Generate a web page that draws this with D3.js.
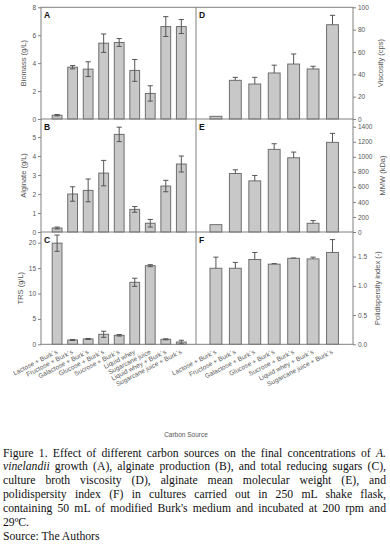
<!DOCTYPE html>
<html><head><meta charset="utf-8">
<script src="https://cdn.jsdelivr.net/npm/d3@7"></script>
<style>
body{margin:0;background:#fff;width:390px;height:548px;overflow:hidden;position:relative;}
#cap{position:absolute;left:3px;top:446.5px;width:383px;font-family:"Liberation Serif","Times New Roman",serif;font-size:11.7px;line-height:13.9px;color:#111;}
#cap .j{text-align:justify;text-align-last:justify;white-space:nowrap;}
#cap .l{text-align:left;white-space:nowrap;}
svg text{font-family:"Liberation Sans",Arial,sans-serif;}
</style></head>
<body>
<svg id="chart" width="390" height="445"></svg>
<div id="cap">
<div class="j">Figure 1. Effect of different carbon sources on the final concentrations of <i>A.</i></div>
<div class="j"><i>vinelandii</i> growth (A), alginate production (B), and total reducing sugars (C),</div>
<div class="j">culture broth viscosity (D), alginate mean molecular weight (E), and</div>
<div class="j">polidispersity index (F) in cultures carried out in 250 mL shake flask,</div>
<div class="j">containing 50 mL of modified Burk's medium and incubated at 200 rpm and</div>
<div class="l">29ºC.</div>
<div class="l">Source: The Authors</div>
</div>
<script>
const leftCats = ["Lactose + Burk´s","Fructose + Burk´s","Galactose + Burk´s","Glucose + Burk´s","Sucrose + Burk´s","Liquid whey","Sugarcane juice","Liquid whey + Burk´s","Sugarcane juice + Burk´s"];
const rightCats = ["Lactose + Burk´s","Fructose + Burk´s","Galactose + Burk´s","Glucose + Burk´s","Sucrose + Burk´s","Liquid whey + Burk´s","Sugarcane juice + Burk´s"];

const biomass = [0.27,3.71,3.57,5.43,5.48,3.48,1.83,6.62,6.62];
const biomassErr = [0.05,0.12,0.53,0.66,0.28,0.78,0.55,0.71,0.5];
const alginate = [0.21,2.0,2.19,3.1,5.14,1.19,0.46,2.42,3.58];
const alginateErr = [0.05,0.38,0.6,0.67,0.38,0.15,0.2,0.3,0.42];
const trs = [19.9,0.85,1.05,1.97,1.77,12.2,15.47,0.98,0.45];
const trsErr = [1.6,0.1,0.1,0.6,0.15,0.8,0.2,0.1,0.35];
const viscosity = [2.4,34.6,31.3,41.2,49.2,44.8,84.4];
const viscosityErr = [0,2.7,6,7,9,2.4,8.4];
const mmw = [98,778,680,1099,987,116,1192];
const mmwErr = [0,49,72,75,76,36,120];
const pdi = [1.30,1.30,1.45,1.37,1.47,1.46,1.57];
const pdiErr = [0.19,0.10,0.12,0.01,0.005,0.03,0.22];

const ticksA = [0,2,4,6,8];
const ticksB = [0,1,2,3,4,5];
const ticksC = [0,5,10,15,20];
const ticksD = [0,20,40,60,80,100];
const ticksE = [0,200,400,600,800,1000,1200,1400];
const ticksF = [0,0.5,1.0,1.5];

const svg = d3.select("#chart");
const L0=41, MID=196, R1=353;
const rowY = [7.3,119,232,344.3];
const axisCol="#808080", txtCol="#555";

const xL = d3.scaleBand().domain(leftCats).range([49.4,189]).paddingInner(0.37).paddingOuter(0.18);
const xR = d3.scaleBand().domain(rightCats).range([206.1,342.3]).paddingInner(0.39).paddingOuter(0.2);

const panels = [
 {side:"L",row:0,vals:biomass,err:biomassErr,max:8,ticks:ticksA,fmt:d3.format("d"),title:"Biomass (g/L)",letter:"A",tx:23},
 {side:"L",row:1,vals:alginate,err:alginateErr,max:5.95,ticks:ticksB,fmt:d3.format("d"),title:"Alginate (g/L)",letter:"B",tx:23},
 {side:"L",row:2,vals:trs,err:trsErr,max:22.1,ticks:ticksC,fmt:d3.format("d"),title:"TRS (g/L)",letter:"C",tx:20},
 {side:"R",row:0,vals:viscosity,err:viscosityErr,max:100,ticks:ticksD,fmt:d3.format("d"),title:"Viscosity (cps)",letter:"D",tx:380},
 {side:"R",row:1,vals:mmw,err:mmwErr,max:1503,ticks:ticksE,fmt:d3.format("d"),title:"MMW (kDa)",letter:"E",tx:382},
 {side:"R",row:2,vals:pdi,err:pdiErr,max:1.92,ticks:ticksF,fmt:d3.format(".1f"),title:"Polidispersity index (-)",letter:"F",tx:377}
];

panels.forEach(p=>{
  const y = d3.scaleLinear().domain([0,p.max]).range([rowY[p.row+1],rowY[p.row]]);
  const x = p.side==="L"?xL:xR;
  const cats = p.side==="L"?leftCats:rightCats;
  const g = svg.append("g");
  g.selectAll("rect.bar").data(p.vals).join("rect")
    .attr("x",(d,i)=>x(cats[i])).attr("width",x.bandwidth())
    .attr("y",d=>y(d)).attr("height",d=>y(0)-y(d))
    .attr("fill","#c8c8c8").attr("stroke","#6e6e6e").attr("stroke-width",1);
  const eg = g.selectAll("g.err").data(p.vals).join("g");
  eg.each(function(d,i){
    const e=p.err[i]; if(!e) return;
    const cx=x(cats[i])+x.bandwidth()/2;
    const top=y(d+e), bot = p.side==="L"?y(d-e):y(d);
    const s=d3.select(this);
    s.append("line").attr("x1",cx).attr("x2",cx).attr("y1",top).attr("y2",bot).attr("stroke","#555").attr("stroke-width",1);
    s.append("line").attr("x1",cx-2.6).attr("x2",cx+2.6).attr("y1",top).attr("y2",top).attr("stroke","#555").attr("stroke-width",1);
    if(p.side==="L") s.append("line").attr("x1",cx-2.6).attr("x2",cx+2.6).attr("y1",bot).attr("y2",bot).attr("stroke","#555").attr("stroke-width",1);
  });
  const isL = p.side==="L";
  const ax = (isL?d3.axisLeft(y):d3.axisRight(y)).tickValues(p.ticks).tickFormat(p.fmt).tickSize(3).tickPadding(2);
  const a = svg.append("g").attr("transform",`translate(${isL?L0:R1},0)`).call(ax);
  a.select(".domain").remove();
  a.selectAll("line").attr("stroke",axisCol);
  a.selectAll("text").attr("fill",txtCol).style("font-size","6.5px");
  svg.append("text").attr("transform",`translate(${p.tx},${(rowY[p.row]+rowY[p.row+1])/2}) rotate(-90)`)
    .attr("text-anchor","middle").attr("dy","0.35em").attr("fill",txtCol).style("font-size","7.5px").text(p.title);
  svg.append("text").attr("x",isL?44:199).attr("y",rowY[p.row]+11).attr("font-weight","bold").style("font-size","8.5px").attr("fill","#111").text(p.letter);
});

const fr = svg.append("g").attr("stroke",axisCol).attr("stroke-width",1).attr("fill","none");
fr.append("rect").attr("x",L0).attr("y",rowY[0]).attr("width",R1-L0).attr("height",rowY[3]-rowY[0]);
fr.append("line").attr("x1",MID).attr("x2",MID).attr("y1",rowY[0]).attr("y2",rowY[3]);
[1,2].forEach(r=>fr.append("line").attr("x1",L0).attr("x2",R1).attr("y1",rowY[r]).attr("y2",rowY[r]));

function xlabels(x,cats){
  svg.append("g").selectAll("text").data(cats).join("text")
    .attr("transform",d=>`translate(${x(d)+x.bandwidth()/2+1},${rowY[3]+9}) rotate(-27)`)
    .attr("text-anchor","end").attr("fill",txtCol).style("font-size","6.5px").text(d=>d);
}
xlabels(xL,leftCats);
xlabels(xR,rightCats);

svg.append("text").attr("x",186).attr("y",436.5).attr("text-anchor","middle").attr("fill",txtCol).style("font-size","6.5px").text("Carbon Source");
</script>
</body></html>
